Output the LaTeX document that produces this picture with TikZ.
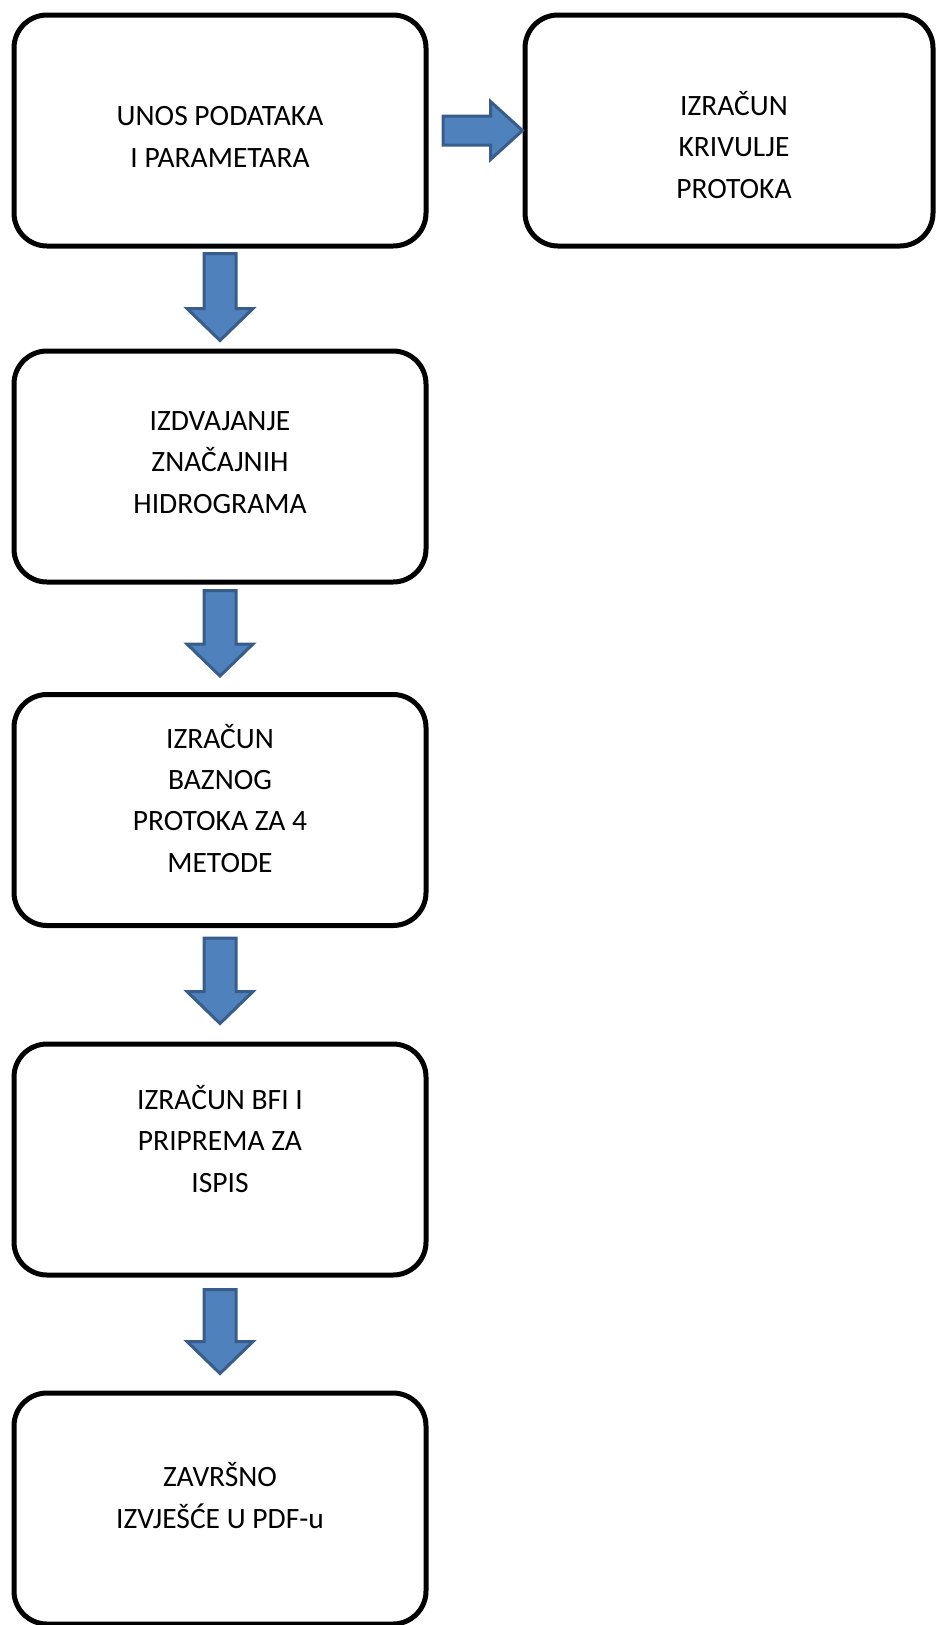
\documentclass[tikz,border=0pt]{standalone}
\usepackage{fontspec}
\setmainfont{Carlito}
\usetikzlibrary{calc}
\definecolor{arrfill}{HTML}{4F81BD}
\definecolor{arrline}{HTML}{385D8A}
\tikzset{
  stepbox/.style={draw=black, line width=5pt, rounded corners=33pt, fill=white,
    minimum width=412pt, minimum height=231pt, inner sep=0pt},
  boxtext/.style={align=center, anchor=base, inner sep=0pt,
    font=\fontsize{29.5}{41.3}\selectfont},
  blockarrow/.style={fill=arrfill, draw=arrline, line width=3pt, line join=miter},
}
\newcommand\arrowdown[2]{%
  \filldraw[blockarrow] ($(#1)+(-16,0)$) -- ($(#1)+(16,0)$) -- ($(#2)+(16,-32)$)
    -- ($(#2)+(33,-32)$) -- (#2) -- ($(#2)+(-33,-32)$) -- ($(#2)+(-16,-32)$) -- cycle;}
\begin{document}
\begin{tikzpicture}[x=1pt,y=-1pt]
\useasboundingbox (0,0) rectangle (935,1625);
% boxes
\node[stepbox] (b1) at (220,130.5) {};
\node[stepbox, minimum width=408pt] (b2) at (729,130.5) {};
\node[stepbox] (b3) at (220,466.5) {};
\node[stepbox] (b4) at (220,810) {};
\node[stepbox] (b5) at (220,1159.5) {};
\node[stepbox] (b6) at (220,1508.5) {};
% texts (anchor = baseline of the last line)
\node[boxtext] (t1) at (220,167) {UNOS PODATAKA\\I PARAMETARA};
\node[boxtext] (t2) at (734,198) {IZRAČUN\\KRIVULJE\\PROTOKA};
\node[boxtext] (t3) at (220,513) {IZDVAJANJE\\ZNAČAJNIH\\HIDROGRAMA};
\node[boxtext] (t4) at (220,872) {IZRAČUN\\BAZNOG\\PROTOKA ZA 4\\METODE};
\node[boxtext] (t5) at (220,1192) {IZRAČUN BFI I\\PRIPREMA ZA\\ISPIS};
\node[boxtext] (t6) at (220,1528) {ZAVRŠNO\\IZVJEŠĆE U PDF-u};
% arrow anchor points
\coordinate (a1s) at ($(b1.south)+(0,5)$);
\coordinate (a1t) at ($(b3.north)+(0,-8)$);
\coordinate (a2s) at ($(b3.south)+(0,6)$);
\coordinate (a2t) at ($(b4.north)+(0,-16)$);
\coordinate (a3s) at ($(b4.south)+(0,10)$);
\coordinate (a3t) at ($(b5.north)+(0,-18)$);
\coordinate (a4s) at ($(b5.south)+(0,12)$);
\coordinate (a4t) at ($(b6.north)+(0,-17)$);
\arrowdown{a1s}{a1t}
\arrowdown{a2s}{a2t}
\arrowdown{a3s}{a3t}
\arrowdown{a4s}{a4t}
% horizontal arrow
\coordinate (h1s) at (443,130.5);
\coordinate (h1t) at (b2.west);
\filldraw[blockarrow] ($(h1s)+(0,-14.5)$) -- ($(h1t)+(-32,-14.5)$) -- ($(h1t)+(-32,-29)$)
  -- (h1t) -- ($(h1t)+(-32,29)$) -- ($(h1t)+(-32,14.5)$) -- ($(h1s)+(0,14.5)$) -- cycle;
\end{tikzpicture}
\end{document}
